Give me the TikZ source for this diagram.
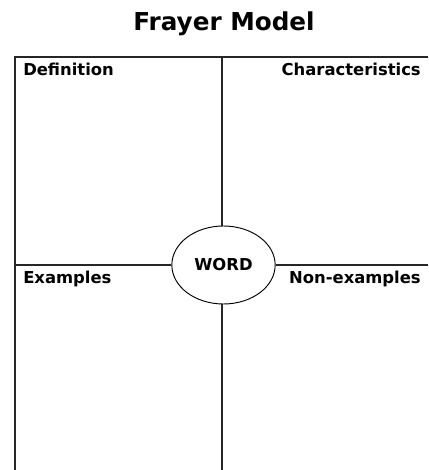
\documentclass[tikz,border=0pt]{standalone}
\usepackage{fontspec}
\setmainfont{DejaVu Sans}
\usetikzlibrary{shapes.geometric}
\begin{document}
\begin{tikzpicture}[x=0.75pt,y=-0.75pt,
  frame/.style={line width=1.1pt,black!85},
  lbl/.style={font=\bfseries\fontsize{12.3pt}{14pt}\selectfont,inner sep=0pt},
  wordbox/.style={ellipse,draw,line width=0.7pt,minimum width=77.5pt,minimum height=58.5pt,inner sep=0pt,font=\bfseries\fontsize{12.3pt}{14pt}\selectfont}]
\useasboundingbox (0,0) rectangle (428,470);
\node[font=\bfseries\fontsize{18.5pt}{22pt}\selectfont,anchor=base,inner sep=0pt] (title) at (224,31) {Frayer Model};
\coordinate (tl) at (15,57);
\coordinate (tr) at (428,57);
\coordinate (bl) at (15,470);
\coordinate (tm) at (222,57);
\coordinate (bm) at (222,470);
\coordinate (ml) at (15,265);
\coordinate (mr) at (428,265);
\node[wordbox] (word) at (223.5,265) {WORD};
\draw[frame] (bl) -- (tl) -- (tr);
\draw[frame] (tm) -- (tm |- word.north);
\draw[frame] (bm |- word.south) -- (bm);
\draw[frame] (ml) -- (word.west);
\draw[frame] (word.east) -- (mr);
\node[lbl,anchor=base west] (def) at (23,75.5) {Definition};
\node[lbl,anchor=base east] (char) at (421,75.5) {Characteristics};
\node[lbl,anchor=base west] (ex) at (23,283) {Examples};
\node[lbl,anchor=base east] (nonex) at (421,283) {Non-examples};
\end{tikzpicture}
\end{document}
